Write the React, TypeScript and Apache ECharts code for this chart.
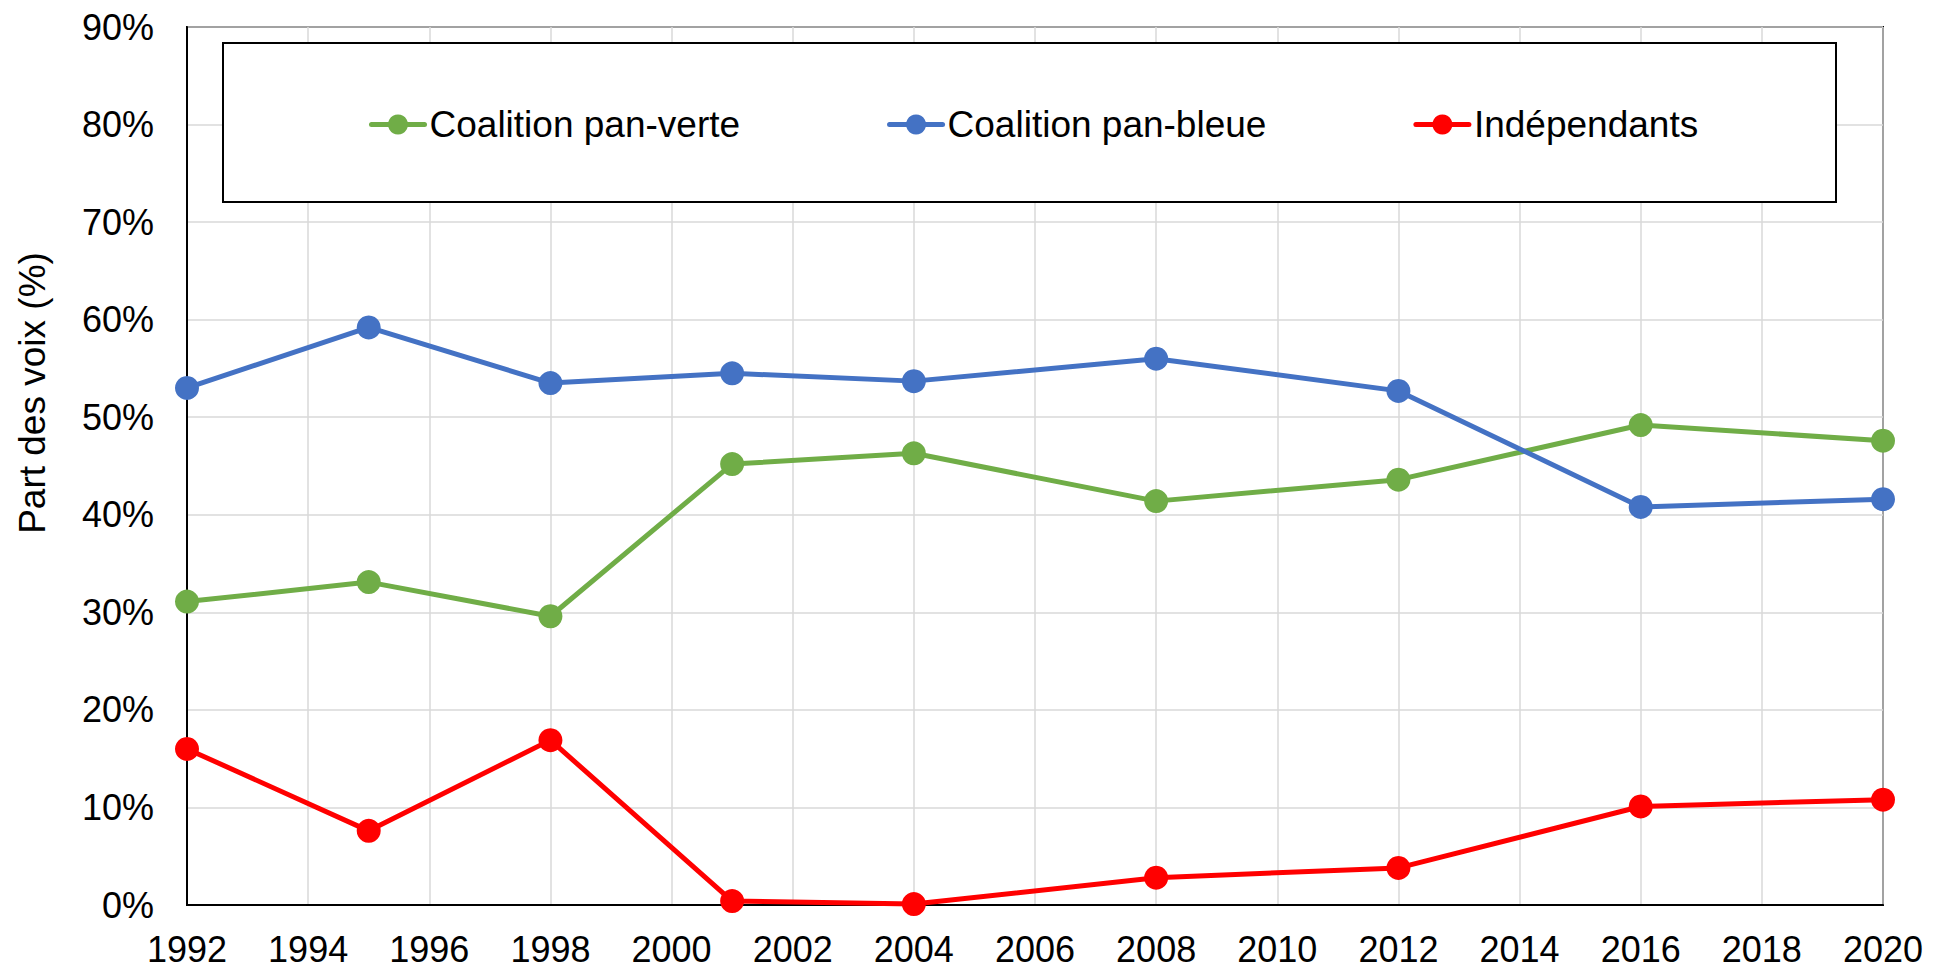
import React, { useEffect, useRef } from "react";
import * as echarts from "echarts";

const years = [1992, 1995, 1998, 2001, 2004, 2008, 2012, 2016, 2020];
const panVerte = [31.1, 33.1, 29.6, 45.2, 46.3, 41.4, 43.6, 49.2, 47.6];
const panBleue = [53.0, 59.2, 53.5, 54.5, 53.7, 56.0, 52.7, 40.8, 41.6];
const independants = [16.0, 7.6, 16.9, 0.4, 0.1, 2.8, 3.8, 10.1, 10.8];
const seriesNames = ["Coalition pan-verte", "Coalition pan-bleue", "Indépendants"];
const seriesColors = ["#70AD47", "#4472C4", "#FF0000"];
const yAxisTitle = "Part des voix (%)";

const FONT = "'Liberation Sans', Arial, sans-serif";

export default function App() {
  const ref = useRef<HTMLDivElement>(null);
  useEffect(() => {
    if (!ref.current) return;
    const chart = echarts.init(ref.current, null, { renderer: "svg" });
    const values = [panVerte, panBleue, independants];
    const series = values.map((vals, i) => ({
      name: seriesNames[i],
      type: "line",
      data: years.map((y, j) => [y, vals[j]]),
      symbol: "circle",
      symbolSize: 24,
      showSymbol: true,
      lineStyle: { color: seriesColors[i], width: 5, cap: "round", join: "round" },
      itemStyle: { color: seriesColors[i] },
      z: 2 + i,
    }));
    chart.setOption({
      animation: false,
      backgroundColor: "#ffffff",
      textStyle: { fontFamily: FONT },
      grid: {
        left: 187,
        top: 27,
        right: 61,
        bottom: 63,
        show: true,
        borderColor: "#000000",
        borderWidth: 2,
        backgroundColor: "transparent",
      },
      legend: {
        data: seriesNames,
        left: 369,
        top: 106,
        orient: "horizontal",
        padding: 0,
        itemWidth: 53,
        itemHeight: 25,
        itemGap: 147,
        lineStyle: { width: 5, cap: "round" },
        textStyle: { fontSize: 37, color: "#000", fontFamily: FONT, lineHeight: 25 },
        z: 10,
      },
      graphic: [
        {
          type: "rect",
          z: 3,
          shape: { x: 223, y: 43, width: 1613, height: 159 },
          style: { fill: "#ffffff", stroke: "#000000", lineWidth: 2 },
        },
        {
          type: "text",
          x: 32,
          y: 393,
          rotation: Math.PI / 2,
          style: {
            text: yAxisTitle,
            fontSize: 37,
            fontFamily: FONT,
            fill: "#000",
            align: "center",
            verticalAlign: "middle",
          },
        },
      ],
      xAxis: {
        type: "value",
        min: 1992,
        max: 2020,
        interval: 2,
        axisLine: { show: true, lineStyle: { color: "#000", width: 2 } },
        axisTick: { show: false },
        axisLabel: {
          fontSize: 36,
          color: "#000",
          margin: 26,
          fontFamily: FONT,
          lineHeight: 36,
          formatter: (v: number) => String(v),
        },
        splitLine: { show: true, lineStyle: { color: "#D9D9D9", width: 1.5 } },
      },
      yAxis: {
        type: "value",
        min: 0,
        max: 90,
        interval: 10,
        axisLine: { show: true, lineStyle: { color: "#000", width: 2 } },
        axisTick: { show: false },
        axisLabel: { fontSize: 36, color: "#000", margin: 33, formatter: "{value}%", fontFamily: FONT },
        splitLine: { show: true, lineStyle: { color: "#D9D9D9", width: 1.5 } },
      },
      series,
    });
    return () => chart.dispose();
  }, []);
  return (
    <div
      ref={ref}
      style={{ position: "fixed", left: 0, top: 0, width: 1944, height: 968, background: "#fff" }}
    />
  );
}
